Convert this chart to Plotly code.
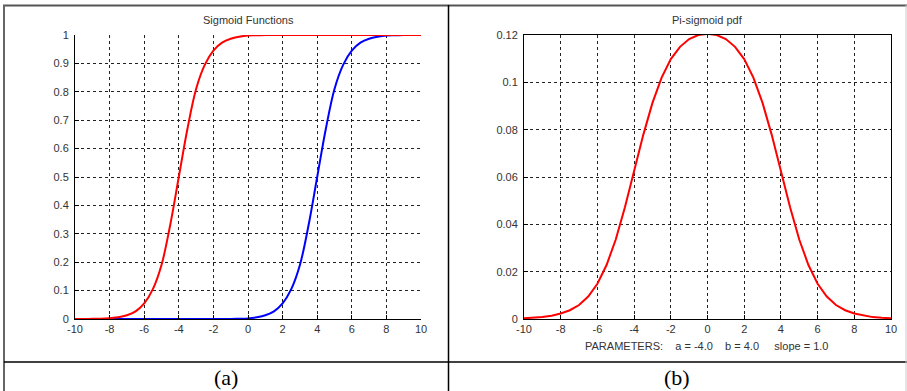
import plotly.graph_objects as go

W, H = 907, 391

# ---- data ----
x_vals = [-10, -9.5, -9, -8.5, -8, -7.5, -7, -6.5, -6, -5.5, -5, -4.5, -4, -3.5, -3, -2.5, -2, -1.5, -1, -0.5,
          0, 0.5, 1, 1.5, 2, 2.5, 3, 3.5, 4, 4.5, 5, 5.5, 6, 6.5, 7, 7.5, 8, 8.5, 9, 9.5, 10]

sig_red = [0.0, 0.0, 0.0005, 0.001, 0.003, 0.006, 0.013, 0.027, 0.055, 0.105, 0.19, 0.33, 0.5, 0.67, 0.81,
           0.895, 0.945, 0.973, 0.987, 0.994, 0.998, 0.999, 1.0, 1.0, 1.0, 1.0, 1.0, 1.0, 1.0, 1.0, 1.0,
           1.0, 1.0, 1.0, 1.0, 1.0, 1.0, 1.0, 1.0, 1.0, 1.0]

sig_blue = [0.0, 0.0, 0.0, 0.0, 0.0, 0.0, 0.0, 0.0, 0.0, 0.0, 0.0, 0.0, 0.0, 0.0, 0.0, 0.0, 0.0, 0.0,
            0.0, 0.001, 0.002, 0.006, 0.013, 0.027, 0.055, 0.105, 0.19, 0.33, 0.5, 0.67, 0.81, 0.895,
            0.945, 0.973, 0.987, 0.994, 0.998, 0.999, 1.0, 1.0, 1.0]

pdf_vals = [0.0003, 0.0005, 0.0008, 0.0014, 0.0023, 0.0037, 0.0059, 0.0095, 0.0149, 0.0228, 0.0336,
            0.0472, 0.0625, 0.0778, 0.0913, 0.1020, 0.1098, 0.1150, 0.1183, 0.1200, 0.1205,
            0.1200, 0.1183, 0.1150, 0.1098, 0.1020, 0.0913, 0.0778, 0.0625, 0.0472, 0.0336,
            0.0228, 0.0149, 0.0095, 0.0059, 0.0037, 0.0023, 0.0014, 0.0008, 0.0005, 0.0003]

x_ticks = [-10, -8, -6, -4, -2, 0, 2, 4, 6, 8, 10]
x_tick_labels = ["-10", "-8", "-6", "-4", "-2", "0", "2", "4", "6", "8", "10"]
y1_ticks = [0, 0.1, 0.2, 0.3, 0.4, 0.5, 0.6, 0.7, 0.8, 0.9, 1]
y1_tick_labels = ["0", "0.1", "0.2", "0.3", "0.4", "0.5", "0.6", "0.7", "0.8", "0.9", "1"]
y2_ticks = [0, 0.02, 0.04, 0.06, 0.08, 0.1, 0.12]
y2_tick_labels = ["0", "0.02", "0.04", "0.06", "0.08", "0.1", "0.12"]

title_left = "Sigmoid Functions"
title_right = "Pi-sigmoid pdf"
params_text = "PARAMETERS:    a = -4.0    b = 4.0     slope = 1.0"
label_a, label_b = "(a)", "(b)"

# ---- helpers: pixel -> paper ----
def px(x):
    return x / W

def py(y):
    return 1 - y / H

FONT = "Liberation Sans, Arial, sans-serif"
TXT = "#333333"

fig = go.Figure()
fig.add_trace(go.Scatter(x=x_vals, y=sig_blue, mode="lines", line=dict(color="#0000ff", width=2),
                         xaxis="x", yaxis="y", showlegend=False, line_shape="spline"))
fig.add_trace(go.Scatter(x=x_vals, y=sig_red, mode="lines", line=dict(color="#ff0000", width=2),
                         xaxis="x", yaxis="y", showlegend=False, line_shape="spline"))
fig.add_trace(go.Scatter(x=x_vals, y=pdf_vals, mode="lines", line=dict(color="#ff0000", width=2),
                         xaxis="x2", yaxis="y2", showlegend=False))

common_ax = dict(showgrid=True, gridcolor="#222222", griddash="3px,3px", gridwidth=1,
                 zeroline=False, showline=True, linecolor="#000000", linewidth=1,
                 ticks="inside", ticklen=4, tickcolor="#000000", automargin=False,
                 tickfont=dict(family=FONT, size=11, color=TXT))

fig.update_layout(
    template="none",
    width=W, height=H, margin=dict(l=0, r=0, t=0, b=0, pad=0), autosize=False,
    paper_bgcolor="white", plot_bgcolor="white",
    xaxis=dict(domain=[px(75), px(421)], range=[-10, 10], tickvals=x_ticks, ticktext=x_tick_labels,
               anchor="y", mirror=False, **common_ax),
    yaxis=dict(domain=[py(319), py(35)], range=[0, 1], tickvals=y1_ticks, ticktext=y1_tick_labels,
               anchor="x", mirror=False, ticklabelstandoff=3, **common_ax),
    xaxis2=dict(domain=[px(524), px(891)], range=[-10, 10], tickvals=x_ticks, ticktext=x_tick_labels,
                anchor="y2", mirror=True, **common_ax),
    yaxis2=dict(domain=[py(319), py(35)], range=[0, 0.12], tickvals=y2_ticks, ticktext=y2_tick_labels,
                anchor="x2", mirror=True, ticklabelstandoff=3, **common_ax),
)

shapes = [
    dict(type="line", xref="paper", yref="paper", x0=px(3), x1=px(907), y0=py(5.5), y1=py(5.5),
         line=dict(color="#555555", width=2)),
    dict(type="line", xref="paper", yref="paper", x0=px(4), x1=px(4), y0=py(5), y1=py(391),
         line=dict(color="#666666", width=2)),
    dict(type="line", xref="paper", yref="paper", x0=px(448.5), x1=px(448.5), y0=py(5), y1=py(391),
         line=dict(color="#000000", width=1.5)),
    dict(type="line", xref="paper", yref="paper", x0=px(4), x1=px(907), y0=py(362), y1=py(362),
         line=dict(color="#000000", width=1.5)),
    dict(type="line", xref="paper", yref="paper", x0=px(906), x1=px(906), y0=py(5), y1=py(391),
         line=dict(color="#cccccc", width=1)),
]
fig.update_layout(shapes=shapes)

def txt(s, x, y, font):
    return dict(text=s, x=px(x), y=py(y), xref="paper", yref="paper", showarrow=False,
                xanchor="center", yanchor="middle", font=font)

small = dict(family=FONT, size=11, color=TXT)
serif = dict(family="Liberation Serif, Times New Roman, serif", size=22, color="#000000")
ann = [
    txt(title_left, 248, 20, small),
    txt(title_right, 707, 20, small),
    txt(params_text.replace(" ", "&nbsp;"), 706, 346, small),
    txt(label_a, 226, 377, serif),
    txt(label_b, 677, 377, serif),
]
fig.update_layout(annotations=ann)

fig.write_html("out.html", config={"displayModeBar": False},
               post_script="document.body.style.margin='0';")
